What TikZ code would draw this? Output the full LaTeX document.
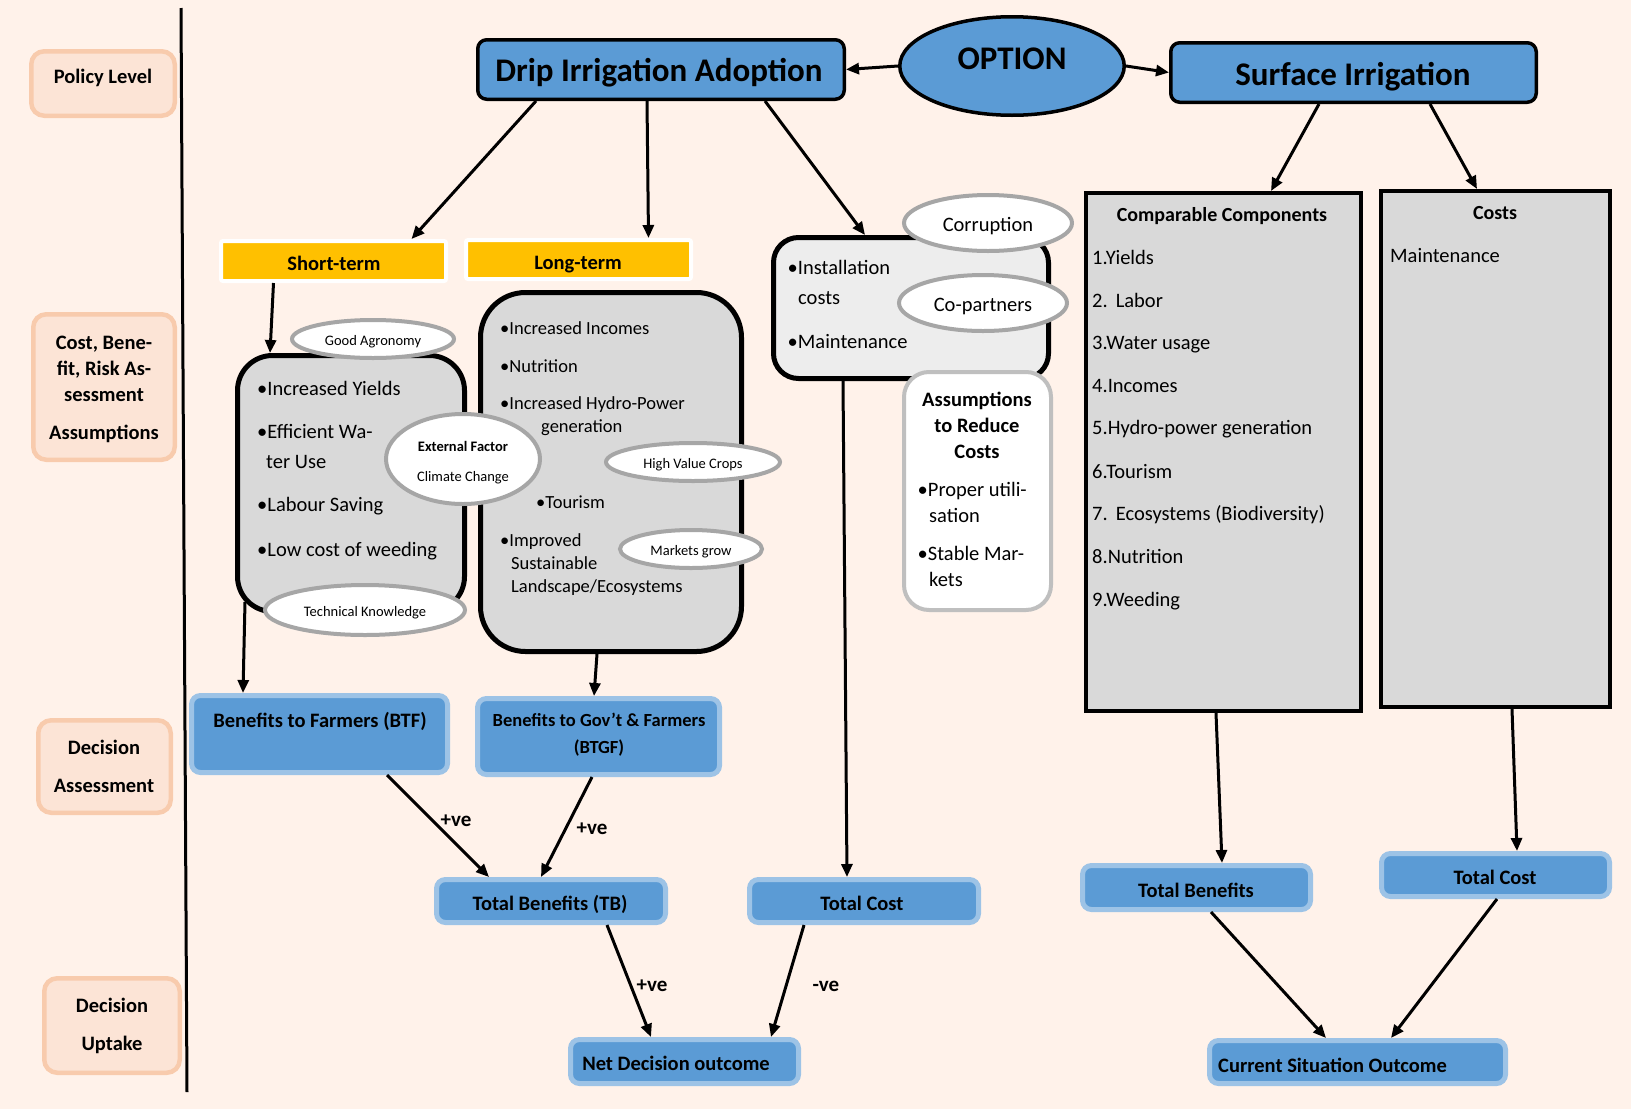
\documentclass[tikz,border=0pt]{standalone}
\usepackage{fontspec}
\setmainfont{Carlito}
\usetikzlibrary{shapes.geometric,arrows.meta}
\definecolor{bgc}{HTML}{FFF2EA}
\definecolor{lvlF}{HTML}{FCE4D6}
\definecolor{lvlB}{HTML}{F8CBAD}
\definecolor{blueF}{HTML}{5B9BD5}
\definecolor{blueB}{HTML}{9DC3E6}
\definecolor{grayF}{HTML}{D9D9D9}
\definecolor{grayL}{HTML}{EDEDED}
\definecolor{ellB}{HTML}{A6A6A6}
\definecolor{asB}{HTML}{BFBFBF}
\definecolor{yel}{HTML}{FFC000}
\newcommand\fsz[1]{\fontsize{#1}{#1}\selectfont}
\begin{document}
\begin{tikzpicture}[x=1pt,y=-1pt,
 lvlbox/.style={draw=lvlB, fill=lvlF, line width=4.5pt, rounded corners=13pt, inner sep=0pt},
 headbox/.style={draw=black, fill=blueF, line width=3.5pt, rounded corners=9pt, inner sep=0pt},
 bluebox/.style={draw=blueB, fill=blueF, line width=5pt, rounded corners=9pt, inner sep=0pt},
 yelbox/.style={draw=white, fill=yel, line width=4pt, rounded corners=2pt, inner sep=0pt},
 graybox/.style={draw=black, fill=grayF, line width=5pt, inner sep=0pt},
 oval/.style={ellipse, draw=ellB, fill=white, line width=4pt, inner sep=0pt, text height=13pt, text depth=0pt},
 tx/.style={inner sep=0pt, anchor=west, text height=14.6pt, text depth=0pt},
 ct/.style={inner sep=0pt, text height=14.6pt, text depth=0pt},
 arr/.style={line width=3pt, -{Triangle[length=13pt,width=11pt]}},
 rg/.style={font=\fsz{20.5}},
 bd/.style={font=\bfseries\fsz{20.5}},
 sm/.style={font=\fsz{14.5}},
 big/.style={font=\bfseries\fsz{33}, text height=20.6pt},
 mid/.style={font=\fsz{18.5}, text height=13.4pt},
]
\fill[bgc] (0,0) rectangle (1631,1109);
\useasboundingbox (0,0) rectangle (1631,1109);

% divider
\draw[line width=3pt] (181,8) -- (187,1092);

% level boxes
\node[lvlbox, minimum width=143.5pt, minimum height=64.5pt] (lv1) at (103,83.5) {};
\node[ct,bd] (lv1t) at (103,76) {Policy Level};
\node[lvlbox, minimum width=141.5pt, minimum height=145.5pt] (lv2) at (104,387) {};
\node[ct,bd] (lv2a) at (104,342) {Cost, Bene-};
\node[ct,bd] (lv2b) at (104,368) {fit, Risk As-};
\node[ct,bd] (lv2c) at (104,394) {sessment};
\node[ct,bd] (lv2d) at (104,432) {Assumptions};
\node[lvlbox, minimum width=132.5pt, minimum height=92.5pt] (lv3) at (104.5,766.5) {};
\node[ct,bd] (lv3a) at (104,747) {Decision};
\node[ct,bd] (lv3b) at (104,785) {Assessment};
\node[lvlbox, minimum width=135.5pt, minimum height=94.5pt] (lv4) at (112,1025.5) {};
\node[ct,bd] (lv4a) at (112,1005) {Decision};
\node[ct,bd] (lv4b) at (112,1043) {Uptake};

% top row
\node[headbox, minimum width=366.5pt, minimum height=59.5pt] (drip) at (661,69.5) {};
\node[ct,big] (dript) at (659,71) {Drip Irrigation Adoption};
\node[ellipse, draw=black, fill=blueF, line width=3.5pt, inner sep=0pt, minimum width=224.5pt, minimum height=98.5pt] (opt) at (1012,66) {};
\node[ct,big] (optt) at (1012,59) {OPTION};
\node[headbox, minimum width=365.5pt, minimum height=59.5pt] (surf) at (1353.5,72.5) {};
\node[ct,big] (surft) at (1353,75) {Surface Irrigation};

% short / long term
\node[yelbox, minimum width=225pt, minimum height=40pt] (st) at (333.5,261) {};
\node[ct,bd] (stt) at (334,263) {Short-term};
\node[yelbox, minimum width=225pt, minimum height=39pt] (lt) at (578.5,259.5) {};
\node[ct,bd] (ltt) at (578,262) {Long-term};

% short-term box
\node[graybox, rounded corners=35pt, minimum width=227pt, minimum height=256pt] (sbox) at (351,483.5) {};
\node[tx,rg] (s1) at (257,388) {•Increased Yields};
\node[tx,rg] (s2) at (257,431) {•Efficient Wa-};
\node[tx,rg] (s2b) at (266,461) {ter Use};
\node[tx,rg] (s3) at (257,504.5) {•Labour Saving};
\node[tx,rg] (s4) at (257,549) {•Low cost of weeding};

% long-term box
\node[graybox, rounded corners=45pt, minimum width=261pt, minimum height=359pt] (lbox) at (611,472) {};
\node[tx,mid] (l1) at (500,328) {•Increased Incomes};
\node[tx,mid] (l2) at (500,366) {•Nutrition};
\node[tx,mid] (l3) at (500,402.5) {•Increased Hydro-Power};
\node[tx,mid] (l3b) at (541,425.5) {generation};
\node[tx,mid] (l4) at (536,502) {•Tourism};
\node[tx,mid] (l5) at (500,540) {•Improved};
\node[tx,mid] (l5b) at (511,563) {Sustainable};
\node[tx,mid] (l5c) at (511,585.5) {Landscape/Ecosystems};

% ovals on short/long boxes
\node[oval, minimum width=162pt, minimum height=38pt, sm] (ga) at (373,339) {Good Agronomy};
\node[oval, minimum width=200pt, minimum height=50pt, sm] (tk) at (365,610) {Technical Knowledge};
\node[oval, minimum width=154pt, minimum height=90pt] (ef) at (463,459) {};
\node[ct,font=\bfseries\fsz{14.5}, text height=12.5pt] (eft) at (463,445) {External Factor};
\node[ct,sm, text height=12.5pt] (efc) at (463,475) {Climate Change};
\node[oval, minimum width=174pt, minimum height=38pt, sm] (hv) at (693,462) {High Value Crops};
\node[oval, minimum width=142pt, minimum height=38pt, sm] (mg) at (691,549) {Markets grow};

% cost box
\node[graybox, fill=grayL, rounded corners=25pt, minimum width=275pt, minimum height=141pt] (cbox) at (911,308) {};
\node[tx,rg] (c1) at (787.5,267) {•Installation};
\node[tx,rg] (c1b) at (798,297.5) {costs};
\node[tx,rg] (c2) at (787.5,341) {•Maintenance};
\node[oval, minimum width=168pt, minimum height=56pt, rg, text height=16pt] (cor) at (988,223) {Corruption};
\node[oval, minimum width=168pt, minimum height=56pt, rg, text height=16pt] (cop) at (983,303) {Co-partners};

% assumptions box
\node[draw=asB, fill=white, line width=4pt, rounded corners=25pt, inner sep=0pt, minimum width=147pt, minimum height=238pt] (asum) at (977.5,491) {};
\node[ct,bd] (a1) at (977,399.5) {Assumptions};
\node[ct,bd] (a2) at (977,425.5) {to Reduce};
\node[ct,bd] (a3) at (977,451.5) {Costs};
\node[tx,rg] (a4) at (917.5,489) {•Proper utili-};
\node[tx,rg] (a4b) at (929,515) {sation};
\node[tx,rg] (a5) at (917.5,553) {•Stable Mar-};
\node[tx,rg] (a5b) at (929,579) {kets};

% surface irrigation boxes
\node[graybox, line width=4pt, minimum width=275pt, minimum height=518pt] (cc) at (1223.5,452) {};
\node[ct,font=\bfseries\fsz{20}] (cct) at (1222,214) {Comparable Components};
\node[tx,rg] (cc1) at (1092,257) {1.Yields};
\node[tx,rg] (cc2) at (1092,300.5) {2.\ \,Labor};
\node[tx,rg] (cc3) at (1092,342) {3.Water usage};
\node[tx,rg] (cc4) at (1092,385) {4.Incomes};
\node[tx,rg] (cc5) at (1092,427.5) {5.Hydro-power generation};
\node[tx,rg] (cc6) at (1092,471) {6.Tourism};
\node[tx,rg] (cc7) at (1092,513) {7.\ \,Ecosystems (Biodiversity)};
\node[tx,rg] (cc8) at (1092,556.5) {8.Nutrition};
\node[tx,rg] (cc9) at (1092,599) {9.Weeding};
\node[graybox, line width=4pt, minimum width=229pt, minimum height=516pt] (costs) at (1495.5,449) {};
\node[ct,font=\bfseries\fsz{20}] (costst) at (1495,212) {Costs};
\node[tx,rg] (costs1) at (1390,255) {Maintenance};

% decision boxes
\node[bluebox, minimum width=256pt, minimum height=77pt] (btf) at (319.5,734) {};
\node[ct,bd] (btft) at (320,720) {Benefits to Farmers (BTF)};
\node[bluebox, minimum width=242pt, minimum height=76pt] (btgf) at (598.5,736.5) {};
\node[ct,font=\bfseries\fsz{18.5}, text height=13.4pt] (btgft) at (599,720) {Benefits to Gov’t \& Farmers};
\node[ct,font=\bfseries\fsz{18.5}, text height=13.4pt] (btgfb) at (599,747) {(BTGF)};
\node[bluebox, minimum width=229pt, minimum height=43pt] (tb) at (551,901) {};
\node[ct,bd] (tbt) at (550,903) {Total Benefits (TB)};
\node[bluebox, minimum width=229pt, minimum height=43pt] (tc) at (864,901) {};
\node[ct,bd] (tct) at (862,903) {Total Cost};
\node[bluebox, minimum width=228pt, minimum height=44pt] (net) at (684.5,1061.5) {};
\node[ct,bd] (nett) at (676,1063) {Net Decision outcome};
\node[bluebox, minimum width=228pt, minimum height=44pt] (tbr) at (1196.5,887.5) {};
\node[ct,bd] (tbrt) at (1196,890) {Total Benefits};
\node[bluebox, minimum width=228pt, minimum height=43pt] (tcr) at (1495.5,875) {};
\node[ct,bd] (tcrt) at (1495,877) {Total Cost};
\node[bluebox, minimum width=296pt, minimum height=43pt] (cso) at (1357.5,1062) {};
\node[tx,bd] (csot) at (1218,1065) {Current Situation Outcome};

% connectors
\draw[arr] (opt.west) -- (drip.east);
\draw[arr] (opt.east) -- (surf.west);
\draw[arr] ([xshift=-125pt]drip.south) -- ([xshift=78pt]st.north);
\draw[arr] ([xshift=-14pt]drip.south) -- ([xshift=70pt]lt.north);
\draw[arr] ([xshift=104pt]drip.south) -- ([xshift=-46pt]cbox.north);
\draw[arr] ([xshift=-60pt]st.south) -- ([xshift=-81pt]sbox.north);
\draw[arr] ([xshift=-106pt,yshift=12pt]sbox.south) -- ([xshift=-76.5pt]btf.north);
\draw[arr] ([xshift=-14pt]lbox.south) -- ([xshift=-4.5pt]btgf.north);
\draw[arr] ([xshift=-68pt]cbox.south) -- ([xshift=-17pt]tc.north);
\draw[arr] ([xshift=-34.5pt]surf.south) -- ([xshift=47.5pt]cc.north);
\draw[arr] ([xshift=76.5pt]surf.south) -- ([xshift=-18.5pt]costs.north);
\draw[arr] ([xshift=-7.5pt]cc.south) -- ([xshift=25.5pt]tbr.north);
\draw[arr] ([xshift=16.5pt]costs.south) -- ([xshift=21.5pt]tcr.north);
\draw[arr] ([xshift=67.5pt]btf.south) -- ([xshift=-62pt]tb.north);
\draw[arr] ([xshift=-6.5pt]btgf.south) -- ([xshift=-10pt]tb.north);
\draw[arr] ([xshift=56pt]tb.south) -- ([xshift=-33.5pt]net.north);
\draw[arr] ([xshift=-60pt]tc.south) -- ([xshift=86.5pt]net.north);
\draw[arr] ([xshift=14.5pt]tbr.south) -- ([xshift=-31.5pt]cso.north);
\draw[arr] ([xshift=1.5pt]tcr.south) -- ([xshift=33.5pt]cso.north);

% connector labels
\node[ct,font=\bfseries\fsz{21}] (lb1) at (456,819) {+ve};
\node[ct,font=\bfseries\fsz{21}] (lb2) at (592,827) {+ve};
\node[ct,font=\bfseries\fsz{21}] (lb3) at (652,984) {+ve};
\node[ct,font=\bfseries\fsz{21}] (lb4) at (826,984) {-ve};
\end{tikzpicture}
\end{document}
